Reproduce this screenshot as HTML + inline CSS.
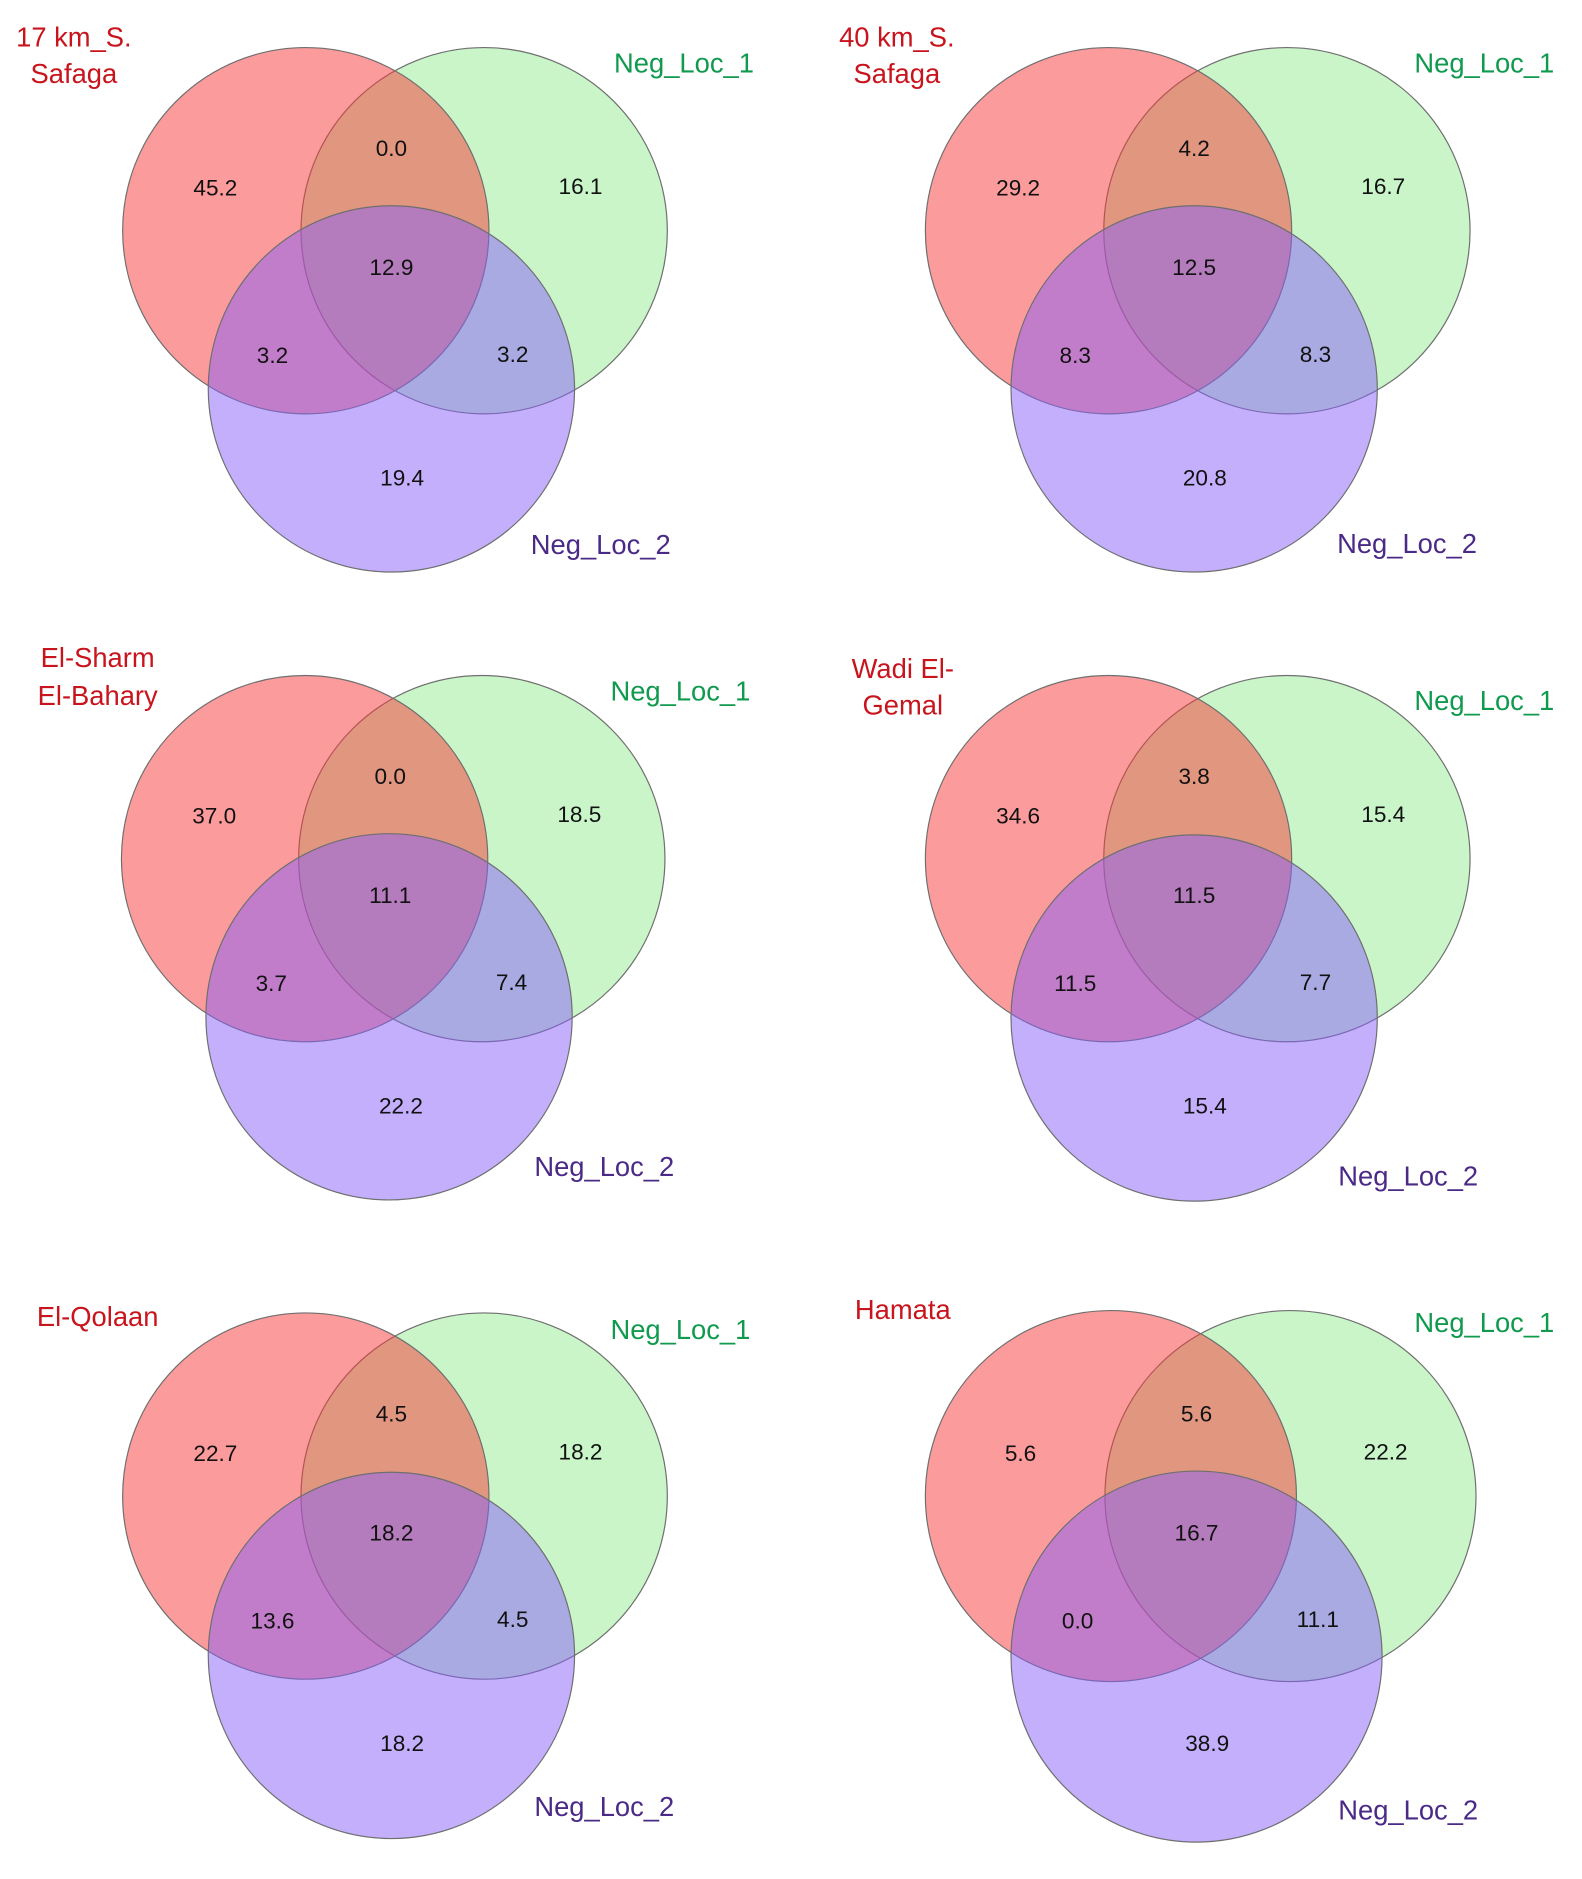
<!DOCTYPE html>
<html><head><meta charset="utf-8"><style>
html,body{margin:0;padding:0;background:#fff}
svg{display:block}
text{font-family:"Liberation Sans",sans-serif}
</style></head><body>
<svg id="chart" width="1582" height="1879" viewBox="0 0 1330 1580" xmlns="http://www.w3.org/2000/svg"></svg>
<script>
const panelNames = ["17 km_S. Safaga","40 km_S. Safaga","El-Sharm El-Bahary","Wadi El-Gemal","El-Qolaan","Hamata"];
const onlySite = [45.2, 29.2, 37.0, 34.6, 22.7, 5.6];
const siteLoc1 = [0.0, 4.2, 0.0, 3.8, 4.5, 5.6];
const onlyLoc1 = [16.1, 16.7, 18.5, 15.4, 18.2, 22.2];
const allThree = [12.9, 12.5, 11.1, 11.5, 18.2, 16.7];
const siteLoc2 = [3.2, 8.3, 3.7, 11.5, 13.6, 0.0];
const loc1Loc2 = [3.2, 8.3, 7.4, 7.7, 4.5, 11.1];
const onlyLoc2 = [19.4, 20.8, 22.2, 15.4, 18.2, 38.9];

const svg = document.getElementById('chart');
const NS = 'http://www.w3.org/2000/svg';
const layout = [
  {c:[257,194,407,194,329,327], r:154, t:[[62,31,"17 km_S."],[62,62,"Safaga"]], l1:[575,53], l2:[505,458]},
  {c:[932,194,1082,194,1004,327], r:154, t:[[754,31,"40 km_S."],[754,62,"Safaga"]], l1:[1248,53], l2:[1183,457]},
  {c:[256,722,405,722,327,855], r:154, t:[[82,553,"El-Sharm"],[82,585,"El-Bahary"]], l1:[572,581], l2:[508,981]},
  {c:[932,722,1082,722,1004,856], r:154, t:[[759,562,"Wadi El-"],[759,593,"Gemal"]], l1:[1248,589], l2:[1184,989]},
  {c:[257,1258,407,1258,329,1392], r:154, t:[[82,1107,"El-Qolaan"]], l1:[572,1118], l2:[508,1519]},
  {c:[934,1258,1085,1258,1006,1393], r:156, t:[[759,1101,"Hamata"]], l1:[1248,1112], l2:[1184,1522]}
];
function mk(tag, attrs, parent){const e=document.createElementNS(NS,tag);for(const k in attrs)e.setAttribute(k,attrs[k]);parent.appendChild(e);return e;}
function txt(parent,x,y,s,size,fill){const t=mk('text',{x:x,y:y,'font-size':size,fill:fill,'text-anchor':'middle','dominant-baseline':'central'},parent);t.textContent=s;return t;}

panelNames.forEach((name,i)=>{
  const L = layout[i];
  const g = mk('g',{},svg);
  
  
  const cols = [['rgb(120,230,120)',0.4,'circle-neg-loc-1',1],['rgb(250,55,55)',0.5,'circle-site',0],['rgb(135,95,250)',0.5,'circle-neg-loc-2',2]];
  cols.forEach(cc=>{
    const k = cc[3];
    const c = mk('circle',{cx:L.c[2*k],cy:L.c[2*k+1],r:L.r,fill:cc[0],'fill-opacity':cc[1],stroke:'#6f6f6f','stroke-width':1},g);
    
    
  });
  const rx=L.c[0], ry=L.c[1];
  const vals=[[onlySite[i],-76,-36,'value-site-only'],[siteLoc1[i],72,-69,'value-site-loc1'],[onlyLoc1[i],231,-37,'value-loc1-only'],[allThree[i],72,31,'value-all-three'],[siteLoc2[i],-28,105,'value-site-loc2'],[loc1Loc2[i],174,104,'value-loc1-loc2'],[onlyLoc2[i],81,208,'value-loc2-only']];
  vals.forEach(v=>{
    const t = txt(g, rx+v[1], ry+v[2], v[0].toFixed(1), 19, '#111');
    
    
  });
  L.t.forEach(tt=>{
    const t = txt(g, tt[0], tt[1], tt[2], 23, '#c8141c');
    
    
  });
  const a = txt(g, L.l1[0], L.l1[1], 'Neg_Loc_1', 23, '#109a4e');
  
  
  const b = txt(g, L.l2[0], L.l2[1], 'Neg_Loc_2', 23, '#4a2a86');
  
  
});
</script>
</body></html>
